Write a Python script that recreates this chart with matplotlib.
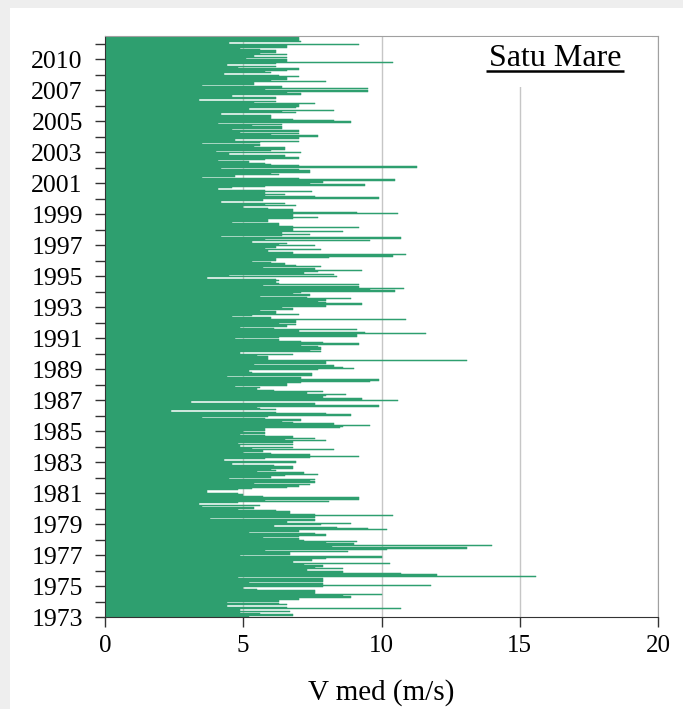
import matplotlib.pyplot as plt
import numpy as np
from matplotlib.patches import Rectangle

# monthly mean wind speed (m/s), bottom bar = first month of 1973
wind_speed = [
    5.2, 6.8, 5.6, 4.9, 6.7, 4.9, 10.7, 6.6, 4.4, 6.6, 6.3, 4.4,
    6.3, 7.0, 7.0, 8.9, 8.6, 10.0, 7.6, 7.6, 7.6, 5.5, 5.0, 7.9,
    11.8, 7.9, 5.2, 7.9, 7.9, 7.9, 4.8, 15.6, 12.0, 10.7, 8.6, 8.6,
    7.3, 8.6, 7.6, 7.9, 7.2, 10.3, 6.8, 7.5, 7.5, 8.0, 10.0,
    4.9, 6.7, 6.7, 8.8, 5.8, 10.2, 13.1, 8.2, 14.0, 9.0, 8.0, 9.1,
    7.2, 7.0, 5.7, 7.0, 8.0, 7.6, 5.2, 7.0, 10.2, 9.5, 8.4, 6.1,
    7.8, 8.9, 6.6, 7.6, 7.6, 3.8, 7.6, 10.4, 7.6, 6.7, 6.7, 6.2,
    4.8, 5.4, 3.5, 5.6, 3.4, 4.8, 8.1, 5.8, 9.2,
    9.2, 5.7, 5.0, 4.8, 3.7, 3.7, 4.8, 5.3, 6.6, 7.0, 7.4, 5.4,
    7.6, 7.4, 7.6, 4.5, 6.0, 6.5, 7.7, 7.2, 5.5, 6.2, 6.0, 6.8,
    6.8, 6.1, 4.6, 6.9, 6.9, 4.3, 5.8, 7.4, 9.2, 7.4, 6.0, 5.0,
    5.7, 8.3, 5.3, 6.8, 4.9, 6.8, 4.8, 6.8, 8.0, 6.5,
    7.6, 6.8, 5.8, 4.9, 5.8, 5.0, 5.8, 5.8, 8.5, 8.6, 9.6, 8.3,
    6.8, 6.4, 7.1, 5.8, 3.5, 5.9, 8.9, 8.0, 6.2, 2.4, 6.2, 5.6,
    5.5, 9.9, 7.6, 7.6, 3.1, 10.6, 9.3, 9.3, 7.9, 8.0, 8.7, 7.3,
    7.9, 6.1, 5.5, 5.6, 4.7, 6.6, 6.6, 7.1, 9.6,
    9.9, 7.1, 7.1, 4.4, 7.5, 7.5, 5.3, 5.2, 7.7, 9.0, 8.6, 8.3,
    5.4, 8.0, 8.0, 13.1, 5.9, 5.9, 5.9, 5.5, 6.8, 4.9, 7.8, 7.4,
    7.8, 7.8, 7.7, 7.1, 9.2, 7.9, 7.1, 6.3, 4.7, 6.3, 9.1, 9.1,
    11.6, 9.4, 7.0, 9.1, 6.1, 4.9, 6.6, 6.9, 6.3,
    6.9, 6.9, 10.9, 6.0, 4.6, 5.3, 7.0, 6.2, 6.2, 5.6, 6.8, 6.4,
    8.0, 8.0, 9.3, 8.0, 7.7, 8.0, 8.9, 7.3, 5.6, 7.4, 6.8, 7.1,
    10.5, 9.6, 10.8, 9.2, 5.7, 9.2, 6.3, 6.2, 6.3, 6.2, 3.7, 8.4,
    4.5, 8.3, 7.2, 7.7, 9.3, 7.6, 5.7, 7.8, 6.9,
    6.5, 6.0, 5.3, 6.2, 6.2, 8.1, 10.4, 10.9, 6.8, 6.8, 5.9, 7.8,
    5.8, 6.2, 7.6, 6.3, 6.6, 5.3, 9.6, 5.8, 10.7, 4.2, 6.4, 7.4,
    6.4, 8.6, 6.8, 6.8, 9.2, 6.8, 6.3, 6.3, 4.6, 5.9, 5.9, 6.8,
    7.7, 6.8, 6.8, 10.6, 9.1, 6.8, 6.8, 5.9, 5.0,
    6.9, 5.8, 6.5, 4.2, 5.7, 5.7, 9.9, 7.6, 5.8, 6.5, 5.8, 7.5,
    5.8, 4.1, 4.6, 5.8, 9.4, 7.4, 7.9, 7.9, 10.5, 7.0, 3.5, 4.7,
    6.3, 6.0, 7.4, 7.4, 7.0, 4.2, 11.3, 7.0, 6.0, 5.8, 5.2, 4.1,
    5.8, 7.0, 6.5, 6.5, 4.5, 7.1, 4.0, 6.0, 6.5,
    6.5, 5.4, 5.6, 3.5, 5.6, 7.0, 4.7, 7.0, 7.0, 7.7, 6.0, 7.0,
    4.9, 7.0, 4.6, 6.4, 6.4, 5.3, 6.4, 4.1, 8.9, 8.3, 6.8, 6.0,
    6.0, 6.0, 4.2, 6.9, 6.4, 8.3, 5.2, 6.9, 7.0, 7.0, 7.6, 5.4,
    6.2, 3.4, 6.2, 6.2, 4.6, 7.1, 7.1, 6.6, 9.5,
    5.8, 9.5, 6.4, 3.5, 5.4, 5.4, 8.0, 6.0, 6.6, 6.6, 7.0, 6.3,
    4.3, 6.0, 5.8, 6.6, 7.0, 4.8, 6.2, 4.4, 6.2, 10.4, 6.6, 6.6,
    5.1, 6.6, 5.4, 6.6, 5.6, 6.2, 6.2, 5.6, 4.9, 6.6, 6.6, 9.2,
    4.5, 7.1, 7.0, 7.0, 7.0, 6.9,
]

year_labels = ["1973", "1975", "1977", "1979", "1981", "1983", "1985",
               "1987", "1989", "1991", "1993", "1995", "1997", "1999",
               "2001", "2003", "2005", "2007", "2010"]
x_ticks = [0, 5, 10, 15, 20]

GREEN = "#2e9f6f"
SERIF = ["Liberation Serif", "DejaVu Serif"]

fig = plt.figure(figsize=(6.83, 7.09), dpi=100)
fig.patch.set_facecolor("white")
# light grey page edge (top and left strips)
fig.patches.append(Rectangle((0, 1 - 8 / 709), 1, 8 / 709, transform=fig.transFigure,
                             facecolor="#eeeeee", edgecolor="none", zorder=-5))
fig.patches.append(Rectangle((0, 0), 10 / 683, 1, transform=fig.transFigure,
                             facecolor="#eeeeee", edgecolor="none", zorder=-5))

ax = fig.add_axes([105 / 683, 1 - 617 / 709, 553 / 683, 581 / 709])
n = len(wind_speed)
pos = np.arange(n)
ax.barh(pos, wind_speed, height=1.0, color=GREEN, edgecolor=GREEN, linewidth=0.35,
        zorder=2)

ax.set_xlim(0, 20)
ax.set_ylim(-0.5, n - 0.5)
ax.set_xticks(x_ticks)
ax.set_xticklabels([str(t) for t in x_ticks], family=SERIF, fontsize=18)
ax.set_yticks(np.arange(len(year_labels)) * 24 - 0.5)
ax.set_yticklabels(year_labels, family=SERIF, fontsize=18.5)
ax.set_yticks(np.arange(12, n, 24) - 0.5, minor=True)
ax.tick_params(axis="both", which="both", direction="out", length=7, width=1,
               color="#333333", pad=6)
ax.tick_params(axis="y", which="major", pad=9)

ax.set_axisbelow(True)
ax.xaxis.grid(True, color="#c6c6c6", linewidth=1)

for side in ["top", "right"]:
    ax.spines[side].set_color("#a0a0a0")
for side in ["left", "bottom"]:
    ax.spines[side].set_color("#333333")

ax.set_xlabel("V med (m/s)", family=SERIF, fontsize=21, labelpad=16)

# title box hides the grid line behind it
ax.add_patch(Rectangle((0.66, 0.912), 0.33, 0.087, transform=ax.transAxes,
                       facecolor="white", edgecolor="none", zorder=3))
ax.text(0.814, 0.962, "Satu Mare", transform=ax.transAxes, ha="center", va="center",
        family=SERIF, fontsize=23, zorder=4)
ax.plot([0.689, 0.938], [0.9395, 0.9395], transform=ax.transAxes, color="black",
        linewidth=1.8, zorder=4, solid_capstyle="butt")

fig.savefig("out.png", dpi=100)
